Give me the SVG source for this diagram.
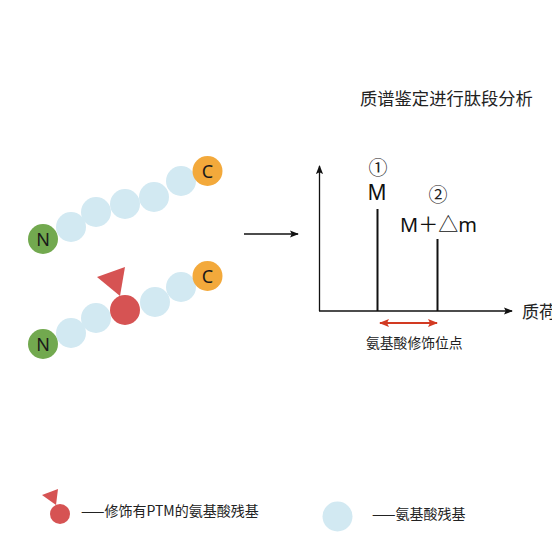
<svg xmlns="http://www.w3.org/2000/svg" width="552" height="553" viewBox="0 0 552 553">
<defs>
<style>
.aa{fill:#d2e9f2}
.n{fill:#72a94f}
.c{fill:#f3a93b}
.mod{fill:#d65353}
.lbl{font-family:"Noto Sans","Noto Sans CJK SC",sans-serif;font-size:18px;fill:#1a1a1a;text-anchor:middle}
.t{font-family:"Noto Sans CJK SC","Noto Sans",sans-serif;fill:#222}
.ax{stroke:#111;stroke-width:1.3;fill:none}
.pk{stroke:#111;stroke-width:2;fill:none}
</style>
<marker id="ah" viewBox="0 0 10 10" refX="9" refY="5" markerWidth="9" markerHeight="9" markerUnits="userSpaceOnUse" orient="auto"><path d="M0,1 L10,5 L0,9 L2,5 Z" fill="#111"/></marker>
<marker id="ra" viewBox="0 0 10 10" refX="9" refY="5" markerWidth="10" markerHeight="10" markerUnits="userSpaceOnUse" orient="auto-start-reverse"><path d="M0,1 L10,5 L0,9 L2,5 Z" fill="#d23a22"/></marker>
</defs>
<rect width="552" height="553" fill="#fff"/>
<g id="chain1">
<circle class="aa" cx="71" cy="227" r="15"/>
<circle class="aa" cx="96" cy="212" r="15"/>
<circle class="aa" cx="125" cy="204" r="15"/>
<circle class="aa" cx="154" cy="197" r="15"/>
<circle class="aa" cx="181" cy="181" r="15"/>
<circle class="n" cx="43" cy="239" r="15"/>
<circle class="c" cx="207.5" cy="171" r="15"/>
<text class="lbl" x="43" y="245.5">N</text>
<text class="lbl" x="207.5" y="177.5">C</text>
</g>
<g id="chain2">
<circle class="aa" cx="71" cy="333" r="15"/>
<circle class="aa" cx="96" cy="318" r="15"/>
<circle class="aa" cx="155" cy="302" r="15"/>
<circle class="aa" cx="181" cy="287" r="15"/>
<circle class="mod" cx="125" cy="310" r="15"/>
<polygon class="mod" points="97,277 125,267 120,296"/>
<circle class="n" cx="43" cy="344" r="15"/>
<circle class="c" cx="207.5" cy="276" r="15"/>
<text class="lbl" x="43" y="350.5">N</text>
<text class="lbl" x="207.5" y="282.5">C</text>
</g>
<g id="connectors">
<line x1="244" y1="234" x2="298" y2="234" stroke="#111" stroke-width="1.5" marker-end="url(#ah)"/>
<line x1="437" y1="323" x2="380" y2="323" stroke="#d23a22" stroke-width="2" marker-end="url(#ra)" marker-start="url(#ra)"/>
</g>
<g id="chart">
<text class="t" x="360" y="105" font-size="17.3">质谱鉴定进行肽段分析</text>
<line class="ax" x1="319.5" y1="311" x2="319.5" y2="166" marker-end="url(#ah)"/>
<line class="ax" x1="319" y1="311" x2="512" y2="311" marker-end="url(#ah)"/>
<line class="pk" x1="377.5" y1="209" x2="377.5" y2="311"/>
<line class="pk" x1="437.5" y1="239" x2="437.5" y2="311"/>
<text class="t" x="378" y="175" font-size="19" text-anchor="middle">①</text>
<text x="377" y="200" font-family="Noto Sans, sans-serif" font-size="21" fill="#111" text-anchor="middle">M</text>
<text class="t" x="438" y="202" font-size="19" text-anchor="middle">②</text>
<text x="400" y="232" font-family="Noto Sans, Noto Sans CJK SC, sans-serif" font-size="20" fill="#111">M<tspan font-family="Noto Sans CJK SC, sans-serif">＋△</tspan>m</text>
<text class="t" x="522" y="318" font-size="17">质荷比</text>
<text class="t" x="366" y="348" font-size="13.8">氨基酸修饰位点</text>
</g>
<g id="legend">
<polygon class="mod" points="42,495 58,489 56,505"/>
<circle class="mod" cx="60" cy="514" r="10"/>
<text class="t" x="81" y="516" font-size="14">——修饰有PTM的氨基酸残基</text>
<circle class="aa" cx="337.5" cy="516.5" r="15"/>
<text class="t" x="372" y="519" font-size="14">——氨基酸残基</text>
</g>
</svg>
